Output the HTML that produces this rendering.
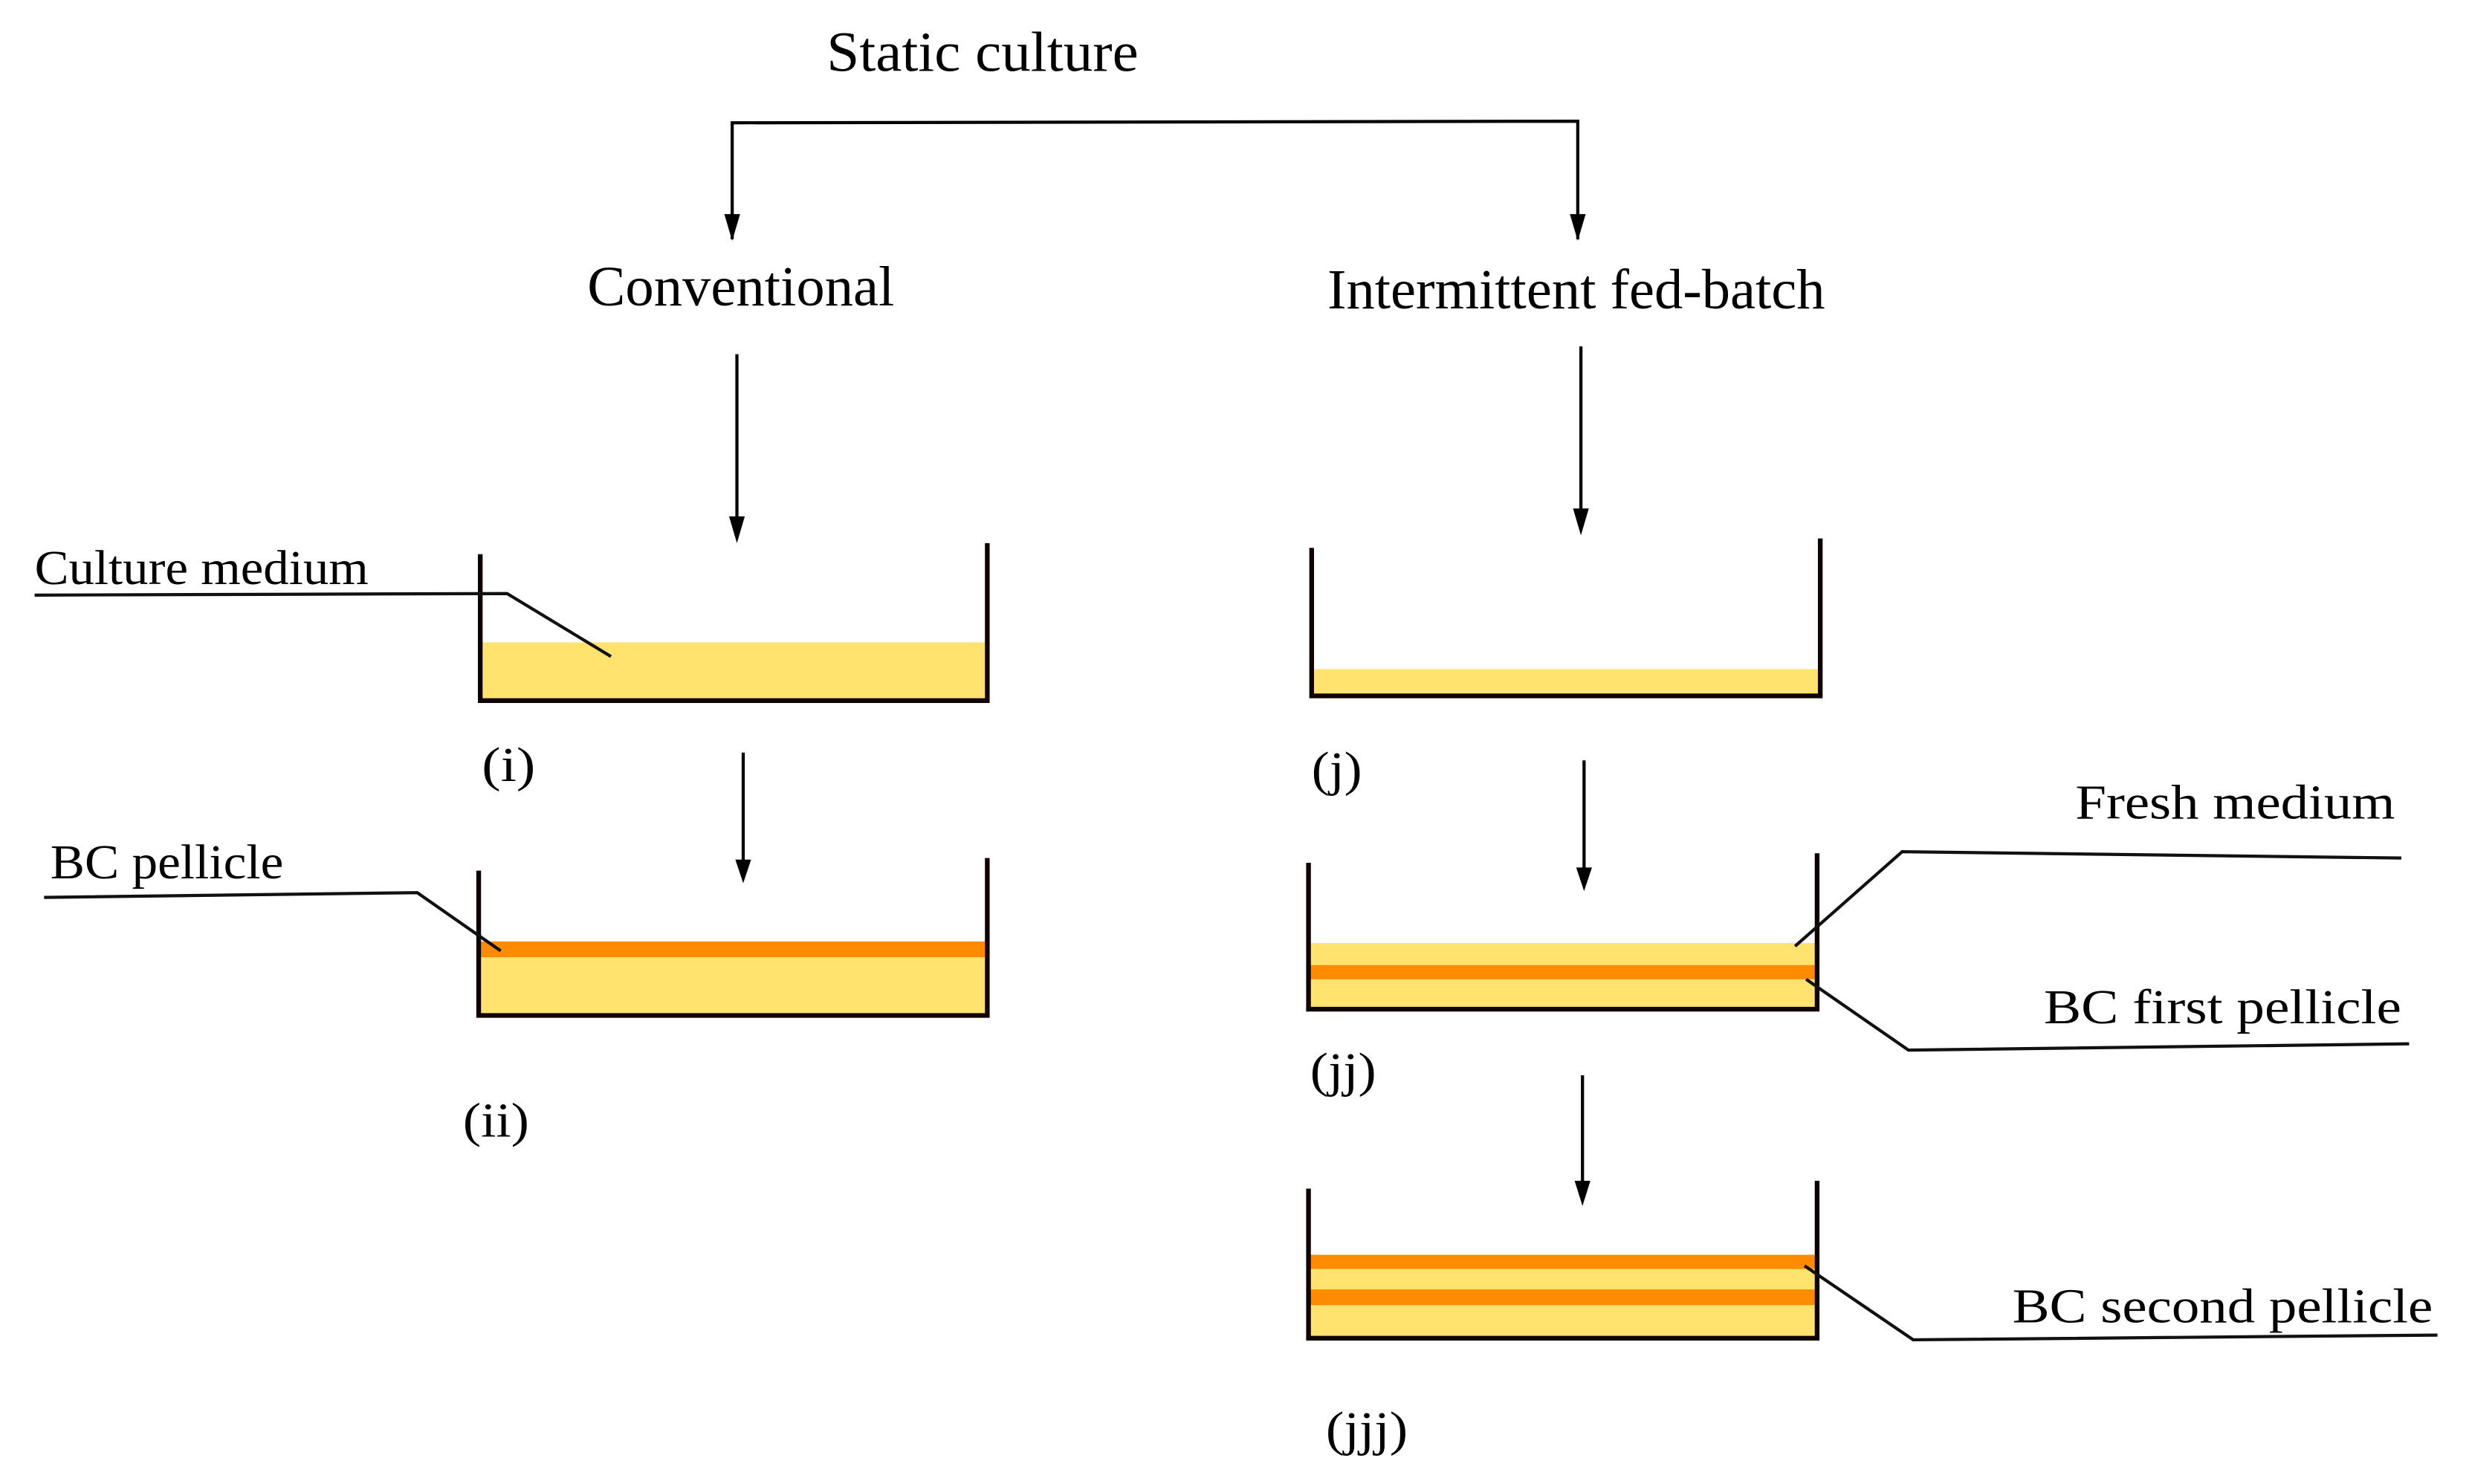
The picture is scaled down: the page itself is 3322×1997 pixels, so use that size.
<!DOCTYPE html>
<html><head><meta charset="utf-8"><style>
html,body{margin:0;padding:0;background:#fff;}
svg{display:block;}
text{font-family:"Liberation Serif",serif;fill:#000;}
</style></head><body>
<svg width="3322" height="1997" viewBox="0 0 1568 942.6" preserveAspectRatio="none" xmlns="http://www.w3.org/2000/svg">
<defs>
<marker id="ah" markerWidth="10" markerHeight="16" refX="5" refY="15" orient="auto-start-reverse" markerUnits="userSpaceOnUse" viewBox="0 0 10 16">
<path d="M0,0 L10,0 L5,16 Z" fill="#000" transform="rotate(0)"/>
</marker>
</defs>
<g font-size="36">
<text x="525" y="45" textLength="198" lengthAdjust="spacingAndGlyphs">Static culture</text>
<text x="373" y="194" textLength="195" lengthAdjust="spacingAndGlyphs">Conventional</text>
<text x="843" y="196" textLength="316" lengthAdjust="spacingAndGlyphs">Intermittent fed-batch</text>
</g>
<g font-size="31">
<text x="22" y="371" textLength="212" lengthAdjust="spacingAndGlyphs">Culture medium</text>
<text x="32" y="558" textLength="148" lengthAdjust="spacingAndGlyphs">BC pellicle</text>
<text x="1318" y="520" textLength="203" lengthAdjust="spacingAndGlyphs">Fresh medium</text>
<text x="1298" y="650" textLength="227" lengthAdjust="spacingAndGlyphs">BC first pellicle</text>
<text x="1278" y="840" textLength="267" lengthAdjust="spacingAndGlyphs">BC second pellicle</text>
<text x="306" y="496" textLength="34" lengthAdjust="spacingAndGlyphs">(i)</text>
<text x="294" y="722" textLength="42" lengthAdjust="spacingAndGlyphs">(ii)</text>
<text x="833" y="499" textLength="32" lengthAdjust="spacingAndGlyphs">(j)</text>
<text x="832" y="690" textLength="42" lengthAdjust="spacingAndGlyphs">(jj)</text>
<text x="842" y="918" textLength="52" lengthAdjust="spacingAndGlyphs">(jjj)</text>
</g>
<!-- bracket -->
<g stroke="#000" stroke-width="2" fill="none">
<path d="M465,152 L465,78 L1002,77 L1002,152"/>
</g>
<g fill="#000">
<path d="M460,136 L470,136 L465,153 Z"/>
<path d="M997,136 L1007,136 L1002,153 Z"/>
</g>
<!-- vertical arrows -->
<g stroke="#000" stroke-width="2">
<line x1="468" y1="225" x2="468" y2="330"/>
<line x1="1004" y1="220" x2="1004" y2="325"/>
<line x1="472" y1="478" x2="472" y2="548"/>
<line x1="1006" y1="483" x2="1006" y2="553"/>
<line x1="1005" y1="683" x2="1005" y2="752"/>
</g>
<g fill="#000">
<path d="M463,328 L473,328 L468,345 Z"/>
<path d="M999,323 L1009,323 L1004,340 Z"/>
<path d="M467,546 L477,546 L472,561 Z"/>
<path d="M1001,551 L1011,551 L1006,566 Z"/>
<path d="M1000,750 L1010,750 L1005,766 Z"/>
</g>
<!-- fills -->
<rect x="306" y="408" width="320" height="37" fill="#FFE36E"/>
<rect x="305" y="598" width="321" height="47" fill="#FFE36E"/>
<rect x="305" y="598" width="321" height="10" fill="#FF8C00"/>
<rect x="834" y="425" width="321" height="17" fill="#FFE36E"/>
<rect x="832" y="599" width="321" height="42" fill="#FFE36E"/>
<rect x="832" y="613" width="321" height="9" fill="#FF8C00"/>
<rect x="832" y="797" width="321" height="53" fill="#FFE36E"/>
<rect x="832" y="797" width="321" height="9" fill="#FF8C00"/>
<rect x="832" y="819" width="321" height="10" fill="#FF8C00"/>
<!-- containers -->
<g stroke="#100" stroke-width="3" fill="none">
<path d="M305,352 L305,445 L627,445 L627,345"/>
<path d="M304,553 L304,645 L627,645 L627,545"/>
<path d="M833,348 L833,442 L1156,442 L1156,342"/>
<path d="M831,548 L831,641 L1154,641 L1154,542"/>
<path d="M831,755 L831,850 L1154,850 L1154,750"/>
</g>
<!-- leader lines -->
<g stroke="#111" stroke-width="2" fill="none">
<path d="M22,378 L322,377 L388,417"/>
<path d="M28,570 L265,567 L318,604"/>
<path d="M1140,601 L1208,541 L1525,545"/>
<path d="M1147,622 L1212,667 L1530,663"/>
<path d="M1146,804 L1215,851 L1548,848"/>
</g>
</svg>
</body></html>
